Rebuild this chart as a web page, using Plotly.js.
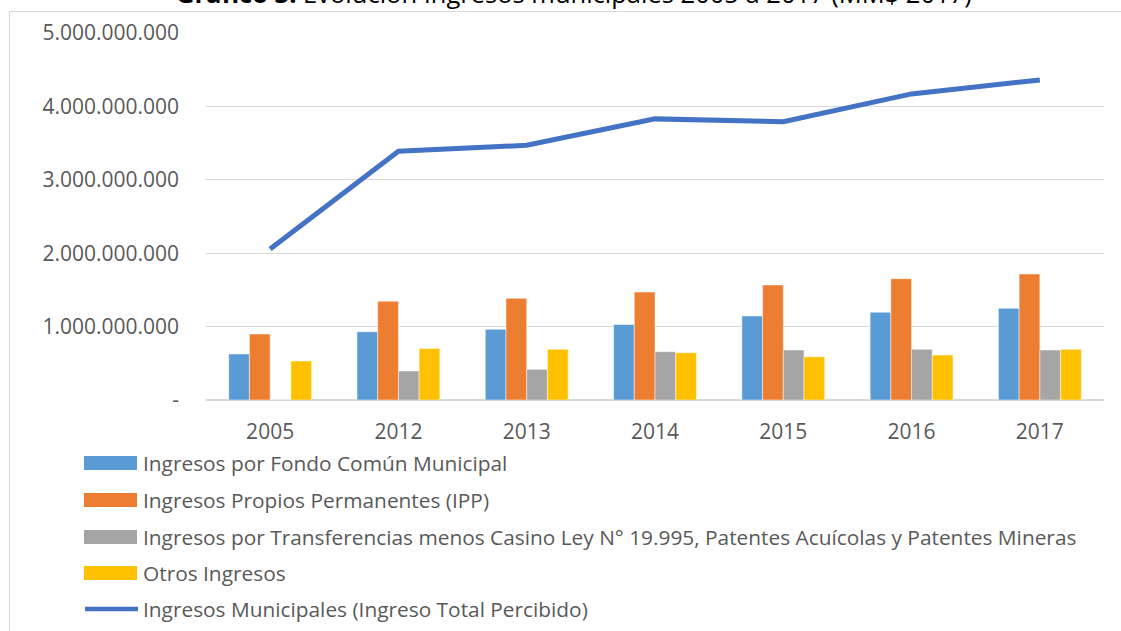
<!DOCTYPE html>
<html>
<head>
<meta charset="utf-8">
<script src="https://cdn.plot.ly/plotly-3.0.1.min.js"></script>
<style>html,body{margin:0;padding:0;background:#fff;}#chart{width:1121px;height:631px;}</style>
</head>
<body>
<div id="chart"></div>
<script>
const years = ['2005','2012','2013','2014','2015','2016','2017'];
const fondoComun = [627e6, 930e6, 963e6, 1030e6, 1144e6, 1195e6, 1249e6];
const propios = [899e6, 1345e6, 1385e6, 1470e6, 1567e6, 1653e6, 1717e6];
const transferencias = [0, 395e6, 418e6, 658e6, 681e6, 690e6, 681e6];
const otros = [531e6, 700e6, 690e6, 645e6, 590e6, 613e6, 690e6];
const totalPercibido = [2057e6, 3390e6, 3470e6, 3830e6, 3790e6, 4170e6, 4360e6];

const seriesNames = [
  'Ingresos por Fondo Común Municipal',
  'Ingresos Propios Permanentes (IPP)',
  'Ingresos por Transferencias menos Casino Ley N° 19.995, Patentes Acuícolas y Patentes Mineras',
  'Otros Ingresos',
  'Ingresos Municipales (Ingreso Total Percibido)'
];
const seriesColors = ['#5B9BD5', '#ED7D31', '#A5A5A5', '#FFC000', '#4472C4'];
const yTickVals = [0, 1e9, 2e9, 3e9, 4e9, 5e9];
const yTickText = ['-', '1.000.000.000', '2.000.000.000', '3.000.000.000', '4.000.000.000', '5.000.000.000'];
const titleText = '<b>Gráfico 3:</b> Evolución Ingresos municipales 2005 a 2017 (MM$ 2017)';

const barSeries = [fondoComun, propios, transferencias, otros];
const traces = barSeries.map((vals, i) => ({
  type: 'bar', x: years, y: vals, name: seriesNames[i],
  marker: {color: seriesColors[i], line: {color: 'rgba(255,255,255,0.6)', width: 0.8}},
  hoverinfo: 'y'
}));
traces.push({
  type: 'scatter', mode: 'lines', x: years, y: totalPercibido, name: seriesNames[4],
  line: {color: seriesColors[4], width: 5}
});

// plot area in pixels: x 206..1104, y 33..400
const L = 206, R = 1104, T = 33, B = 400;
const px = v => (v - L) / (R - L);
const py = v => (B - v) / (B - T);

const shapes = [{
  type: 'rect', xref: 'paper', yref: 'paper',
  x0: px(9.5), x1: px(1130), y0: py(700), y1: py(11.5),
  line: {color: '#d9d9d9', width: 1}, fillcolor: 'rgba(0,0,0,0)', layer: 'below'
}];
const annotations = [{
  xref: 'paper', yref: 'paper', x: px(574), y: py(-7.5), xanchor: 'center', yanchor: 'middle',
  text: titleText, showarrow: false, font: {family: 'Open Sans', size: 25.5, color: '#000'}
}];
const legendY = [463, 500, 537, 573, 609];
seriesNames.forEach((nm, i) => {
  if (i < 4) {
    shapes.push({type: 'rect', xref: 'paper', yref: 'paper',
      x0: px(84), x1: px(137), y0: py(legendY[i] + 7), y1: py(legendY[i] - 7),
      fillcolor: seriesColors[i], line: {width: 0}});
  } else {
    shapes.push({type: 'line', xref: 'paper', yref: 'paper',
      x0: px(85), x1: px(138), y0: py(legendY[i]), y1: py(legendY[i]),
      line: {color: seriesColors[i], width: 4.5}});
  }
  annotations.push({xref: 'paper', yref: 'paper', x: px(141), y: py(legendY[i]),
    xanchor: 'left', yanchor: 'middle', text: nm, showarrow: false,
    font: {family: 'Open Sans', size: 20.85, color: '#595959'}});
});

const layout = {
  width: 1121, height: 631,
  margin: {l: L, r: 1121 - R, t: T, b: 631 - B, pad: 0},
  paper_bgcolor: '#fff', plot_bgcolor: '#fff',
  showlegend: false,
  barmode: 'group', bargap: 0.354, bargroupgap: 0,
  font: {family: 'Open Sans', color: '#595959'},
  xaxis: {
    type: 'category', showgrid: false, zeroline: false, showline: false,
    ticks: '', tickfont: {family: 'Open Sans', size: 21, color: '#595959'},
    ticklabelstandoff: 17, fixedrange: true
  },
  yaxis: {
    range: [0, 5e9], tickvals: yTickVals, ticktext: yTickText,
    showgrid: true, gridcolor: '#d9d9d9', gridwidth: 1.3,
    zeroline: true, zerolinecolor: '#d9d9d9', zerolinewidth: 1.3,
    showline: false, ticks: '',
    tickfont: {family: 'Open Sans', size: 21, color: '#595959'},
    ticklabelstandoff: 26, fixedrange: true
  },
  shapes: shapes,
  annotations: annotations
};

Plotly.newPlot('chart', traces, layout, {displayModeBar: false, staticPlot: true});
</script>
</body>
</html>
